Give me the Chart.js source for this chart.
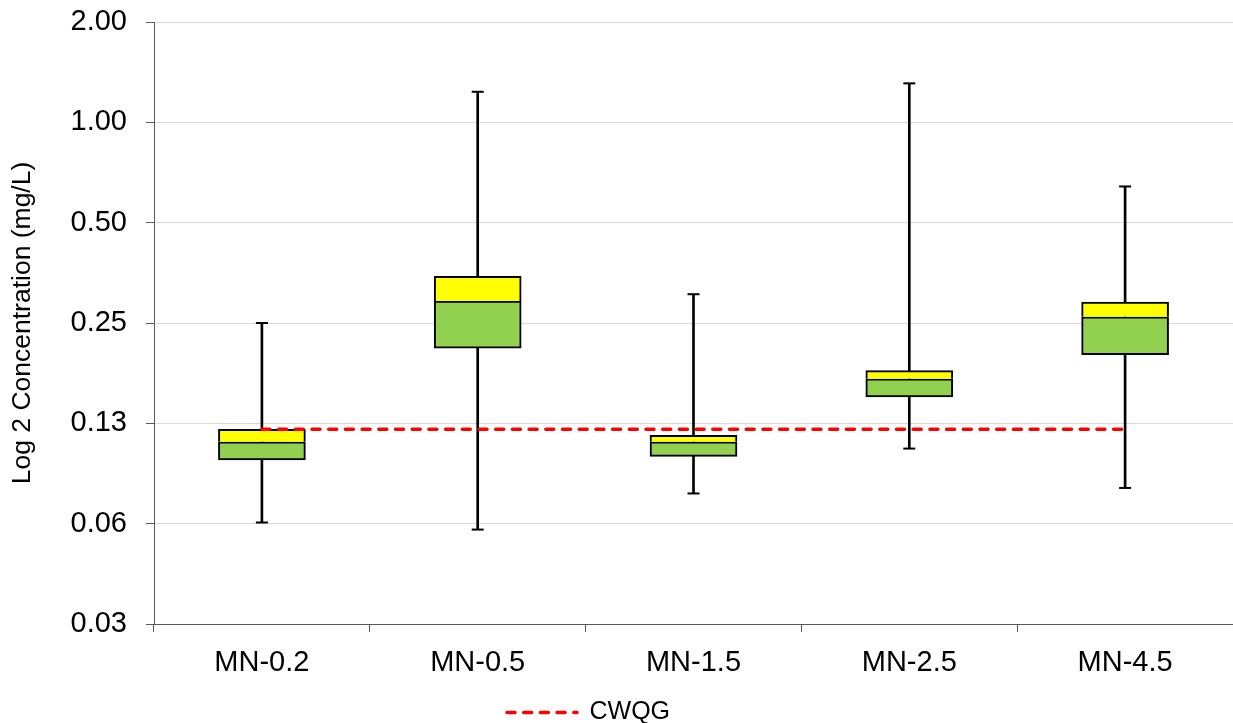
<!DOCTYPE html>
<html>
<head>
<meta charset="utf-8">
<script src="https://cdn.jsdelivr.net/npm/chart.js@4/dist/chart.umd.min.js"></script>
<style>
  html, body { margin: 0; padding: 0; background: #ffffff; }
  #wrap { width: 1233px; height: 723px; }
</style>
</head>
<body>
<div id="wrap"><canvas id="chart" width="1233" height="723"></canvas></div>
<script>
// Sampling sites along the river
const categories = ['MN-0.2', 'MN-0.5', 'MN-1.5', 'MN-2.5', 'MN-4.5'];

// Box-plot statistics per site (mg/L)
const minValues    = [0.063, 0.060, 0.077, 0.105, 0.080];
const q1Values     = [0.097, 0.210, 0.0995, 0.150, 0.201];
const medianValues = [0.110, 0.291, 0.110, 0.170, 0.261];
const q3Values     = [0.120, 0.345, 0.115, 0.180, 0.289];
const maxValues    = [0.250, 1.235, 0.305, 1.309, 0.642];

// Water quality guideline
const guidelineName = 'CWQG';
const guidelineValues = [0.12, 0.12, 0.12, 0.12, 0.12];

// Base-2 axis ticks and their printed labels
const yTickValues = [0.03125, 0.0625, 0.125, 0.25, 0.5, 1, 2];
const yTickLabels = ['0.03', '0.06', '0.13', '0.25', '0.50', '1.00', '2.00'];

const FONT = '"Liberation Sans", Arial, sans-serif';
const AXIS_COLOR = '#595959';
const GRID_COLOR = '#d9d9d9';
const GUIDE_COLOR = '#ff0000';

const pairs = (a, b) => a.map((v, i) => [v, b[i]]);

// Scales keep their fixed size and need no extra room for edge labels
const fixSize = (w, h) => scale => {
  if (w !== null) scale.width = w;
  if (h !== null) scale.height = h;
  scale.paddingTop = 0; scale.paddingBottom = 0;
  scale.paddingLeft = 0; scale.paddingRight = 0;
};

// Nudges the single-entry legend to sit under the plot
const legendPlacement = {
  id: 'legendPlacement',
  afterLayout(chart) {
    const lg = chart.legend;
    if (!lg) return;
    lg.left -= 28; lg.right -= 28;
    lg.top += 12; lg.bottom += 12;
  }
};

new Chart(document.getElementById('chart'), {
  type: 'bar',
  data: {
    labels: categories,
    datasets: [
      {
        type: 'line',
        label: guidelineName,
        data: guidelineValues,
        borderColor: GUIDE_COLOR,
        backgroundColor: GUIDE_COLOR,
        borderWidth: 3.5,
        borderDash: [8, 8.7],
        borderCapStyle: 'round',
        pointRadius: 0,
        pointHoverRadius: 0,
        fill: false,
        order: 0
      },
      {
        type: 'line',
        label: 'max',
        data: maxValues,
        showLine: false,
        pointStyle: 'line',
        pointRadius: 6,
        pointBorderWidth: 2,
        pointBorderColor: '#000000',
        order: 1
      },
      {
        type: 'line',
        label: 'min',
        data: minValues,
        showLine: false,
        pointStyle: 'line',
        pointRadius: 6,
        pointBorderWidth: 2,
        pointBorderColor: '#000000',
        order: 1
      },
      {
        label: 'upper',
        data: pairs(medianValues, q3Values),
        backgroundColor: '#ffff00',
        borderColor: '#000000',
        borderWidth: 2,
        borderSkipped: 'bottom',
        barThickness: 87,
        grouped: false,
        order: 2
      },
      {
        label: 'lower',
        data: pairs(q1Values, medianValues),
        backgroundColor: '#92d050',
        borderColor: '#000000',
        borderWidth: 2,
        borderSkipped: false,
        barThickness: 87,
        grouped: false,
        order: 3
      },
      {
        label: 'range',
        data: pairs(minValues, maxValues),
        backgroundColor: '#000000',
        borderWidth: 0,
        barThickness: 2,
        grouped: false,
        order: 4
      }
    ]
  },
  options: {
    responsive: false,
    animation: false,
    devicePixelRatio: 1,
    layout: { autoPadding: false, padding: { top: 22, right: 0, bottom: 0, left: 0 } },
    plugins: {
      tooltip: { enabled: false },
      legend: {
        display: true,
        position: 'bottom',
        labels: {
          usePointStyle: true,
          pointStyleWidth: 70,
          font: { family: FONT, size: 25 },
          color: '#000000',
          generateLabels(chart) {
            const ds = chart.data.datasets[0];
            return [{
              text: ds.label,
              fillStyle: ds.borderColor,
              strokeStyle: ds.borderColor,
              lineWidth: ds.borderWidth,
              lineDash: ds.borderDash,
              lineCap: 'round',
              pointStyle: 'line',
              hidden: false,
              datasetIndex: 0
            }];
          }
        }
      }
    },
    scales: {
      x: {
        offset: true,
        grid: {
          display: true,
          offset: true,
          drawOnChartArea: false,
          drawTicks: true,
          tickLength: 8,
          color: AXIS_COLOR,
          tickColor: AXIS_COLOR
        },
        border: { color: AXIS_COLOR, width: 1 },
        ticks: {
          font: { family: FONT, size: 29 },
          color: '#000000',
          padding: 14,
          maxRotation: 0,
          autoSkip: false
        },
        afterFit: fixSize(null, 54)
      },
      y: {
        type: 'logarithmic',
        min: yTickValues[0],
        max: yTickValues[yTickValues.length - 1],
        afterBuildTicks(scale) {
          scale.ticks = yTickValues.map(v => ({ value: v }));
        },
        afterFit: fixSize(154, null),
        ticks: {
          font: { family: FONT, size: 29 },
          color: '#000000',
          padding: 19,
          autoSkip: false,
          callback(value) {
            const i = yTickValues.indexOf(value);
            return i >= 0 ? yTickLabels[i] : '';
          }
        },
        grid: {
          color: GRID_COLOR,
          lineWidth: 1,
          tickColor: AXIS_COLOR,
          tickLength: 8
        },
        border: { color: AXIS_COLOR, width: 1 },
        title: {
          display: true,
          text: 'Log 2 Concentration (mg/L)',
          font: { family: FONT, size: 26.5 },
          color: '#000000',
          padding: { top: 7, bottom: 0 }
        }
      }
    }
  },
  plugins: [legendPlacement]
});
</script>
</body>
</html>
